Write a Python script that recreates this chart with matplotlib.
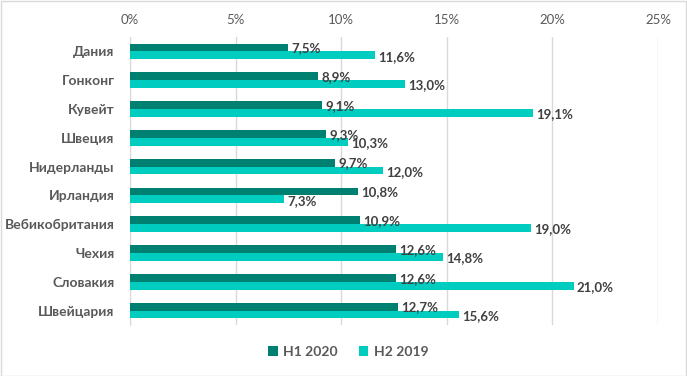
import matplotlib
matplotlib.use("Agg")
import matplotlib.pyplot as plt
import numpy as np

plt.rcParams["font.family"] = ["Lato", "DejaVu Sans"]

# ====== DATA ======
countries = ["Дания", "Гонконг", "Кувейт", "Швеция", "Нидерланды", "Ирландия",
             "Вебикобритания", "Чехия", "Словакия", "Швейцария"]
h1_2020 = [7.5, 8.9, 9.1, 9.3, 9.7, 10.8, 10.9, 12.6, 12.6, 12.7]
h2_2019 = [11.6, 13.0, 19.1, 10.3, 12.0, 7.3, 19.0, 14.8, 21.0, 15.6]
ticks = [0, 5, 10, 15, 20, 25]

dark = "#008070"
light = "#00CCBF"
txt = "#595959"
val = "#404040"

fig = plt.figure(figsize=(6.87, 3.76), dpi=100)
ax = fig.add_axes([130 / 687, 1 - 325 / 376, 528 / 687, 288 / 376])

y = np.arange(len(countries))
h = 0.27
ax.barh(y - h / 2, h1_2020, height=h, color=dark, label="H1 2020", zorder=3)
ax.barh(y + h / 2, h2_2019, height=h, color=light, label="H2 2019", zorder=3)

for i in range(len(countries)):
    ax.text(h1_2020[i] + 0.15, y[i] - h / 2 + 0.03, f"{h1_2020[i]:.1f}%".replace(".", ","),
            va="center", ha="left", fontsize=9.5, fontweight="bold", color=val, zorder=4)
    ax.text(h2_2019[i] + 0.15, y[i] + h / 2 + 0.05, f"{h2_2019[i]:.1f}%".replace(".", ","),
            va="center", ha="left", fontsize=9.5, fontweight="bold", color=val, zorder=4)

ax.set_xlim(0, 25)
ax.set_ylim(len(countries) - 0.5, -0.5)
ax.set_xticks(ticks)
ax.set_xticklabels([f"{t}%" for t in ticks], fontsize=9.5, color=txt)
ax.xaxis.tick_top()
ax.set_yticks(y)
ax.set_yticklabels(countries, fontsize=10, fontweight="bold", color=txt)
ax.tick_params(axis="x", length=0, pad=8)
ax.tick_params(axis="y", length=0, pad=11)
ax.grid(axis="x", color="#d9d9d9", linewidth=1, zorder=0)
for s in ["top", "right", "bottom"]:
    ax.spines[s].set_visible(False)
ax.spines["left"].set_color("#d9d9d9")

leg = fig.legend(loc="center", bbox_to_anchor=(0.507, 1 - 352 / 376), ncol=2, frameon=False,
                 handlelength=0.7, handleheight=0.7, handletextpad=0.4, columnspacing=1.5,
                 prop={"size": 10, "weight": "bold"})
for t in leg.get_texts():
    t.set_color(txt)

fig.patches.append(plt.Rectangle((0.001, 0.001), 0.998, 0.997, transform=fig.transFigure,
                                 fill=False, edgecolor="#d9d9d9", linewidth=1))

plt.savefig("out.png", dpi=100)
plt.close()
